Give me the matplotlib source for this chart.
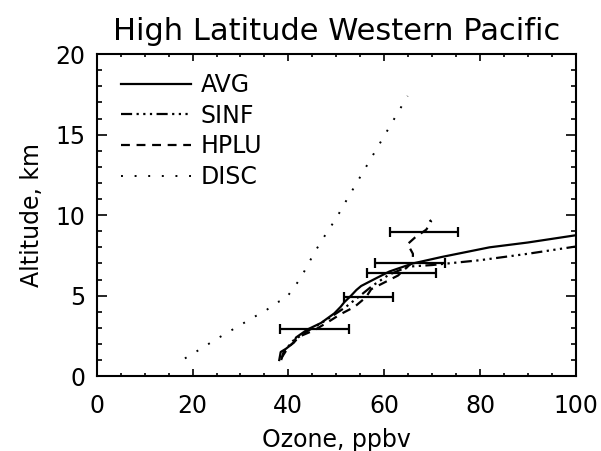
import matplotlib
matplotlib.use("Agg")
import matplotlib.pyplot as plt
from matplotlib.ticker import MultipleLocator

# ozone profiles, altitude in km, ozone in ppbv
avg_alt = [1.0, 1.5, 1.7, 2.1, 2.4, 2.9, 3.3, 3.9, 4.3, 4.6, 5.0, 5.35, 5.6, 6.0, 6.5, 7.0, 7.4, 8.0, 8.3, 8.75]
avg_o3 = [38.1, 38.4, 39.5, 41.2, 41.6, 44.0, 46.8, 49.6, 50.9, 51.7, 53.1, 54.2, 55.2, 57.8, 61.1, 66.0, 72.0, 82.0, 90.0, 100.0]

sinf_alt = [1.0, 1.5, 2.2, 2.8, 3.5, 4.3, 5.0, 5.6, 6.3, 6.8, 6.9, 7.2, 7.6, 8.05]
sinf_o3 = [38.5, 39.0, 41.0, 44.0, 48.0, 52.0, 55.0, 57.5, 61.0, 65.0, 70.0, 80.0, 90.0, 100.0]

hplu_alt = [1.1, 1.8, 2.5, 2.85, 3.4, 3.85, 4.3, 4.9, 5.4, 6.25, 7.1, 7.6, 8.2, 8.6, 9.1, 9.6, 9.7]
hplu_o3 = [38.5, 40.0, 42.6, 45.4, 48.5, 50.9, 53.8, 56.2, 57.3, 62.9, 66.0, 66.0, 64.9, 66.4, 68.8, 69.8, 69.5]

disc_alt = [1.1, 1.8, 2.2, 2.9, 3.3, 3.7, 4.1, 4.6, 4.75, 5.6, 6.2, 6.9, 8.1, 9.0, 9.8, 10.6, 14.0, 17.4]
disc_o3 = [18.4, 22.3, 24.4, 28.4, 30.7, 33.0, 35.4, 37.7, 39.3, 41.4, 42.8, 44.0, 46.3, 48.2, 50.0, 51.5, 58.2, 64.9]

# binned means with horizontal spread
bar_alt = [2.9, 4.9, 6.4, 7.0, 8.95]
bar_o3 = [45.4, 56.7, 63.6, 65.3, 68.4]
bar_err = [7.2, 5.1, 7.2, 7.3, 7.1]

plt.rcParams["font.family"] = ["DejaVu Sans"]

fig = plt.figure(figsize=(6.01, 4.51), dpi=100)
ax = fig.add_axes([0.161, 0.166, 0.797, 0.714])

ax.plot(avg_o3, avg_alt, color="black", lw=1.6, ls="-", label="AVG")
ax.plot(sinf_o3, sinf_alt, color="black", lw=1.6, ls=(0, (5, 2, 1, 2, 1, 2, 1, 2)), label="SINF")
ax.plot(hplu_o3, hplu_alt, color="black", lw=1.6, ls=(0, (4, 3)), label="HPLU")
ax.plot(disc_o3, disc_alt, color="black", lw=1.4, ls=(0, (1, 6)), label="DISC")

ax.errorbar(bar_o3, bar_alt, xerr=bar_err, fmt="none", ecolor="black",
            elinewidth=1.6, capsize=3.5, capthick=1.6)

ax.set_xlim(0, 100)
ax.set_ylim(0, 20)
ax.xaxis.set_major_locator(MultipleLocator(20))
ax.xaxis.set_minor_locator(MultipleLocator(5))
ax.yaxis.set_major_locator(MultipleLocator(5))
ax.yaxis.set_minor_locator(MultipleLocator(1))
ax.tick_params(axis="x", which="major", direction="in", length=5, width=1.2,
               top=True, labelsize=17, pad=13)
ax.tick_params(axis="x", which="minor", direction="in", length=2.5, width=1.2, top=True)
ax.tick_params(axis="y", which="major", direction="in", length=7, width=1.2,
               right=True, labelsize=17, pad=8)
ax.tick_params(axis="y", which="minor", direction="in", length=3.5, width=1.2, right=True)
for sp in ax.spines.values():
    sp.set_linewidth(1.5)

ax.set_xlabel("Ozone, ppbv", fontsize=17, labelpad=7)
ax.set_ylabel("Altitude, km", fontsize=17, labelpad=8)
ax.set_title("High Latitude Western Pacific", fontsize=22, pad=10)

ax.legend(loc="upper left", frameon=False, fontsize=17, handlelength=3.0,
          handletextpad=0.4, labelspacing=0.28, borderaxespad=0.2,
          bbox_to_anchor=(0.02, 0.985))

fig.savefig("out.png", dpi=100)
